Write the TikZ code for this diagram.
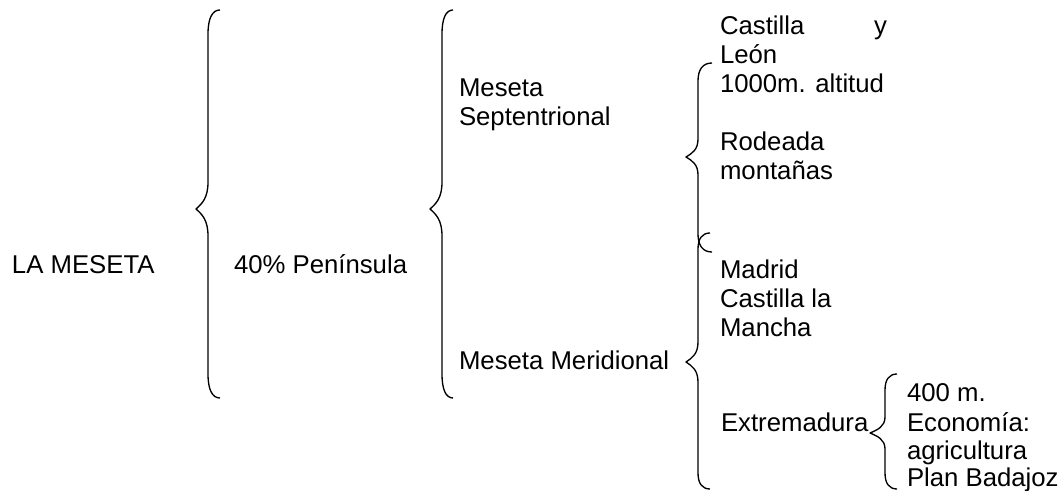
\documentclass[tikz,border=0pt]{standalone}
\usepackage{fontspec}
\setmainfont{Liberation Sans}
\tikzset{
  lbl/.style={anchor=base west, inner sep=0pt, outer sep=0pt, font=\fontsize{19.3}{23}\selectfont},
  curly/.style={draw=black, line width=1pt, line join=round}
}
% #1 end x, #2 spine x, #3 tip x, #4 top y, #5 tip y, #6 bottom y, #7 end curve height, #8 tip half height
\newcommand{\drawcurly}[8]{%
  \draw[curly] (#1,#4) .. controls ({#2+0.35*(#1-#2)},#4) and (#2,{#4+0.35*#7}) .. (#2,{#4+#7})
    -- (#2,{#5-#8}) .. controls (#2,{#5-0.4*#8}) and ({#2-0.5*(#2-#3)},{#5-0.2*#8}) .. (#3,#5)
    .. controls ({#2-0.5*(#2-#3)},{#5+0.2*#8}) and (#2,{#5+0.4*#8}) .. (#2,{#5+#8})
    -- (#2,{#6-#7}) .. controls (#2,{#6-0.35*#7}) and ({#2+0.35*(#1-#2)},#6) .. (#1,#6);}
\begin{document}
\begin{tikzpicture}[x=0.75pt,y=-0.75pt]
\useasboundingbox (0,0) rectangle (1062,491);

% texts
\node[lbl] (lameseta) at (12,274) {LA MESETA};
\node[lbl] (pen) at (234,274) {40\% Península};
\node[lbl] (sep1) at (459,97) {Meseta};
\node[lbl] (sep2) at (459,126) {Septentrional};
\node[lbl] (mer) at (459,369) {Meseta Meridional};
\node[lbl] (cas) at (720,35) {Castilla};
\node[lbl] (yy) at (874,35) {y};
\node[lbl] (leon) at (720,64) {León};
\node[lbl] (alt) at (720,93) {1000m. altitud};
\node[lbl] (rod) at (720,151) {Rodeada};
\node[lbl] (mon) at (720,180) {montañas};
\node[lbl] (mad) at (720,278) {Madrid};
\node[lbl] (cal) at (720,307) {Castilla la};
\node[lbl] (man) at (720,336) {Mancha};
\node[lbl] (ext) at (721,431) {Extremadura};
\node[lbl] (m400) at (907,401) {400 m.};
\node[lbl] (eco) at (907,431) {Economía:};
\node[lbl] (agr) at (907,459) {agricultura};
\node[lbl] (plan) at (907,486) {Plan Badajoz};

% braces
\drawcurly{220}{208}{196}{10}{209}{398}{24}{27}
\drawcurly{453}{442}{430}{10}{209}{398}{24}{27}
\drawcurly{712}{698}{686}{63}{157}{252}{18}{18}
\drawcurly{710}{698}{686}{233}{362}{489}{16}{20}
\drawcurly{897}{885}{870}{374}{433}{489}{16}{16}
\end{tikzpicture}
\end{document}
